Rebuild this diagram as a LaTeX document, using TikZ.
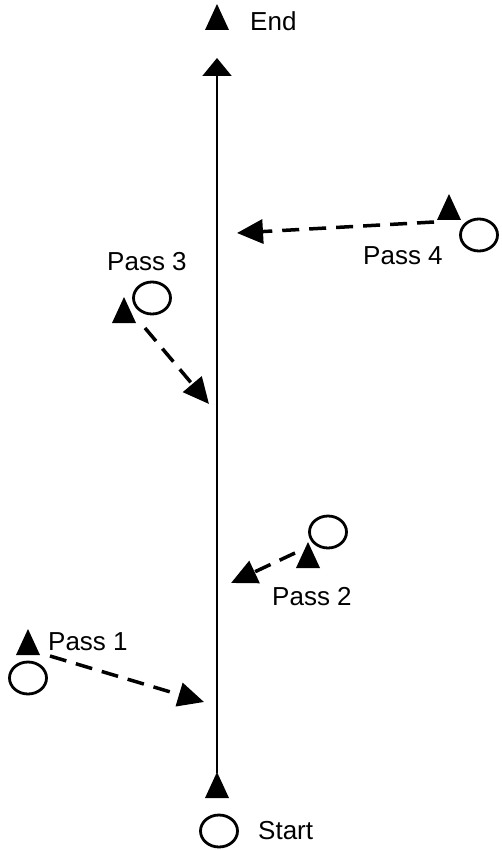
\documentclass[tikz,border=0pt]{standalone}
\usepackage{fontspec}
\setmainfont{Liberation Sans}
\usetikzlibrary{arrows.meta,shapes.geometric}

\tikzset{
  spot/.style={ellipse,draw,line width=2.8pt,minimum width=37pt,minimum height=32pt,inner sep=0pt},
  flag/.pic={\fill (0,0) -- (-12,26) -- (12,26) -- cycle;},
  lbl/.style={anchor=base west,inner sep=0pt,font=\fontsize{26}{31}\selectfont},
  route/.style={line width=2pt,-{Triangle[length=18pt,width=29pt]}},
  pass/.style={line width=3.5pt,dash pattern=on 17pt off 10pt,-{Triangle[length=26pt,width=24pt]}}
}

\begin{document}
\begin{tikzpicture}[x=1pt,y=-1pt]
\useasboundingbox (0,0) rectangle (501,850);

% start and end of the route
\pic (startf) at (217,772) {flag};
\node[spot] (starts) at (219,831) {};
\node[lbl] (startl) at (258,839) {Start};
\pic (endf) at (217,4) {flag};
\node[lbl] (endl) at (250,31) {End};
\coordinate (startpt) at (217,773);
\coordinate (endtip) at (217,58);
\draw[route] (startpt) -- (endtip);

% pass 1
\pic (p1f) at (28,629) {flag};
\node[spot] (p1s) at (28,678) {};
\node[lbl] (p1l) at (48,650) {Pass 1};
\coordinate (p1a) at (50,656);
\coordinate (p1b) at (204,702);
\draw[pass] (p1a) -- (p1b);

% pass 2
\node[spot] (p2s) at (328,532) {};
\pic (p2f) at (308,542) {flag};
\node[lbl] (p2l) at (272,605) {Pass 2};
\coordinate (p2a) at (295,553);
\coordinate (p2b) at (231,583);
\draw[pass] (p2a) -- (p2b);

% pass 3
\node[lbl] (p3l) at (107,270) {Pass 3};
\node[spot] (p3s) at (152,298) {};
\pic (p3f) at (124,297) {flag};
\coordinate (p3a) at (145,328);
\coordinate (p3b) at (209,404);
\draw[pass] (p3a) -- (p3b);

% pass 4
\pic (p4f) at (449,194) {flag};
\node[spot] (p4s) at (479,235) {};
\node[lbl] (p4l) at (363,264) {Pass 4};
\coordinate (p4a) at (434,222);
\coordinate (p4b) at (237,233);
\draw[pass] (p4a) -- (p4b);
\end{tikzpicture}
\end{document}
